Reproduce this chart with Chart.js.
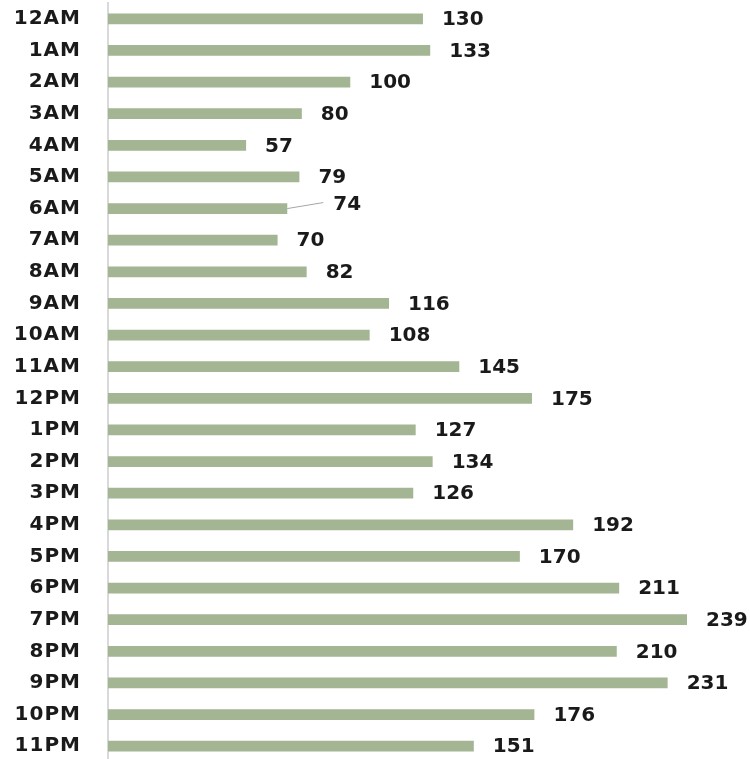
<!DOCTYPE html>
<html>
<head>
<meta charset="utf-8">
<script src="https://cdn.jsdelivr.net/npm/chart.js@4"></script>
<style>
    html, body { margin: 0; padding: 0; background: #ffffff; overflow: hidden; }
    #wrap { width: 750px; height: 762px; }
</style>
</head>
<body>
<div id="wrap"><canvas id="horasChart"></canvas></div>
<script>
const horas = ['12AM', '1AM', '2AM', '3AM', '4AM', '5AM', '6AM', '7AM', '8AM', '9AM', '10AM', '11AM',
    '12PM', '1PM', '2PM', '3PM', '4PM', '5PM', '6PM', '7PM', '8PM', '9PM', '10PM', '11PM'];
const cantidades = [130, 133, 100, 80, 57, 79, 74, 70, 82, 116, 108, 145,
    175, 127, 134, 126, 192, 170, 211, 239, 210, 231, 176, 151];
// label of 6AM sits apart from its bar, joined by a leader line
const etiquetaDesplazada = { index: 6, dx: 46, dy: -4 };

const fuente = '"DejaVu Sans", Verdana, sans-serif';

// the hour labels look a little wider than the plain font
const tickSpacing = {
    id: 'tickSpacing',
    beforeDraw(chart) {
        chart.ctx.letterSpacing = '1px';
    },
    beforeDatasetsDraw(chart) {
        chart.ctx.letterSpacing = '0px';
    },
};

const valueLabels = {
    id: 'valueLabels',
    afterDatasetsDraw(chart) {
        const ctx = chart.ctx;
        const meta = chart.getDatasetMeta(0);

        ctx.save();
        ctx.font = `bold 20px ${fuente}`;
        ctx.fillStyle = '#1a1a1a';
        ctx.textAlign = 'left';
        ctx.textBaseline = 'middle';

        meta.data.forEach((bar, i) => {
            let x = bar.x + 19;
            let y = bar.y + 1;

            if (i === etiquetaDesplazada.index) {
                x = bar.x + etiquetaDesplazada.dx;
                y = bar.y + etiquetaDesplazada.dy;
                ctx.strokeStyle = '#a6a6a6';
                ctx.lineWidth = 1;
                ctx.beginPath();
                ctx.moveTo(bar.x, bar.y);
                ctx.lineTo(x - 10, y - 2);
                ctx.stroke();
            }

            ctx.fillText(String(cantidades[i]), x, y);
        });

        ctx.restore();
    },
};

new Chart(document.getElementById('horasChart'), {
    type: 'bar',
    data: {
        labels: horas,
        datasets: [
            {
                data: cantidades,
                backgroundColor: '#a3b592',
                borderWidth: 0,
                barPercentage: 0.34,
                categoryPercentage: 1,
            },
        ],
    },
    options: {
        indexAxis: 'y',
        responsive: true,
        maintainAspectRatio: false,
        animation: false,
        layout: {
            padding: { top: 3, right: 0, bottom: 0, left: 0 },
        },
        plugins: {
            legend: { display: false },
            tooltip: { enabled: false },
        },
        scales: {
            x: {
                display: false,
                min: 0,
                max: 265,
            },
            y: {
                afterFit: (scale) => {
                    scale.width = 108;
                    scale.paddingTop = 0;
                    scale.paddingBottom = 0;
                },
                grid: {
                    display: false,
                    drawTicks: false,
                },
                border: {
                    display: true,
                    color: '#d9d9d9',
                    width: 2,
                },
                ticks: {
                    padding: 27,
                    color: '#1a1a1a',
                    font: { family: fuente, size: 20, weight: 'bold' },
                },
            },
        },
    },
    plugins: [tickSpacing, valueLabels],
});
</script>
</body>
</html>
